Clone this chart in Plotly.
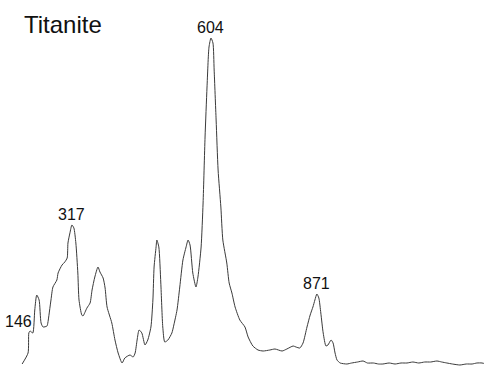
import plotly.graph_objects as go

# Raman spectrum of titanite (Raman shift in cm-1, intensity in arbitrary units)
shift = [
    126, 141, 143, 146, 153, 158, 163, 169, 174, 179, 189, 191, 199, 204, 214, 217,
    227, 234, 240, 242, 247, 252, 257, 262, 267, 270, 277, 280, 290, 298, 303, 310,
    318, 323, 331, 336, 341, 353, 361, 369, 379, 386, 399, 407, 412, 417, 422, 429,
    437, 444, 452, 457, 460, 465, 467, 472, 477, 482, 487, 495, 505, 510, 518, 525,
    533, 541, 546, 551, 558, 566, 571, 579, 584, 589, 594, 599, 604, 609, 612, 617,
    622, 629, 634, 644, 650, 657, 665, 677, 690, 698, 710, 723, 736, 753, 766, 784,
    796, 812, 819, 829, 837, 847, 855, 862, 867, 872, 877, 882, 888, 895, 900, 908,
    913, 918, 923, 931, 948, 960, 975, 989, 1000, 1015, 1028, 1039, 1055, 1070, 1085,
    1100, 1115, 1130, 1145, 1160, 1176, 1188, 1201, 1215, 1234, 1250, 1265, 1277,
    1290, 1300,
]
intensity = [
    1, 12, 32, 34, 32, 55, 70, 65, 42, 38, 39, 42, 65, 78, 85, 92,
    100, 103, 107, 122, 132, 140, 137, 122, 92, 65, 50, 49, 57, 62, 75, 88,
    98, 93, 87, 77, 58, 42, 25, 12, 2, 7, 10, 8, 12, 25, 35, 32,
    20, 25, 38, 65, 98, 118, 125, 118, 82, 38, 23, 25, 32, 40, 55, 78,
    105, 118, 125, 120, 92, 78, 88, 118, 162, 228, 278, 318, 327, 322, 295, 245,
    195, 158, 125, 102, 82, 72, 58, 45, 38, 28, 19, 15, 14, 15, 16, 14,
    16, 19, 18, 17, 22, 38, 50, 58, 65, 71, 67, 52, 32, 19, 20, 25,
    22, 12, 5, 2, 1, 2, 3, 4, 2, 2, 1, 1, 2, 1, 2,
    2, 3, 2, 3, 3, 4, 3, 2, 1, 0, 1, 1, 2,
    2, 1,
]

# Peak labels: text and the (shift, intensity) vertex each one sits above
peak_text = ["604", "317", "871"]
peak_x = [604, 252, 872]
peak_y = [327, 140, 71]

fig = go.Figure()
fig.add_trace(go.Scatter(
    x=shift, y=intensity, mode="lines",
    line=dict(color="#3a3a3a", width=1, shape="spline", smoothing=0.6),
    hoverinfo="skip", showlegend=False,
))

for t, px, py in zip(peak_text, peak_x, peak_y):
    fig.add_annotation(
        x=px, y=py, text=t, showarrow=False, xanchor="center", yanchor="bottom",
        yshift=0, font=dict(family="Arial, Liberation Sans, sans-serif", size=16, color="#111"),
    )

# shoulder label on the left of the low-frequency band
fig.add_annotation(
    x=146, y=34, text="146", showarrow=False, xanchor="right", yanchor="middle",
    xshift=4, yshift=10,
    font=dict(family="Arial, Liberation Sans, sans-serif", size=16, color="#111"),
)

fig.add_annotation(
    xref="paper", yref="paper", x=0.045, y=0.975, text="Titanite", showarrow=False,
    xanchor="left", yanchor="top",
    font=dict(family="Arial, Liberation Sans, sans-serif", size=24, color="#111"),
)

fig.update_layout(
    width=484, height=367,
    margin=dict(l=0, r=0, t=0, b=0),
    paper_bgcolor="white", plot_bgcolor="white",
    xaxis=dict(range=[70, 1295], visible=False, showgrid=False, zeroline=False),
    yaxis=dict(range=[-2, 365], visible=False, showgrid=False, zeroline=False),
)

fig.write_html("out.html")
